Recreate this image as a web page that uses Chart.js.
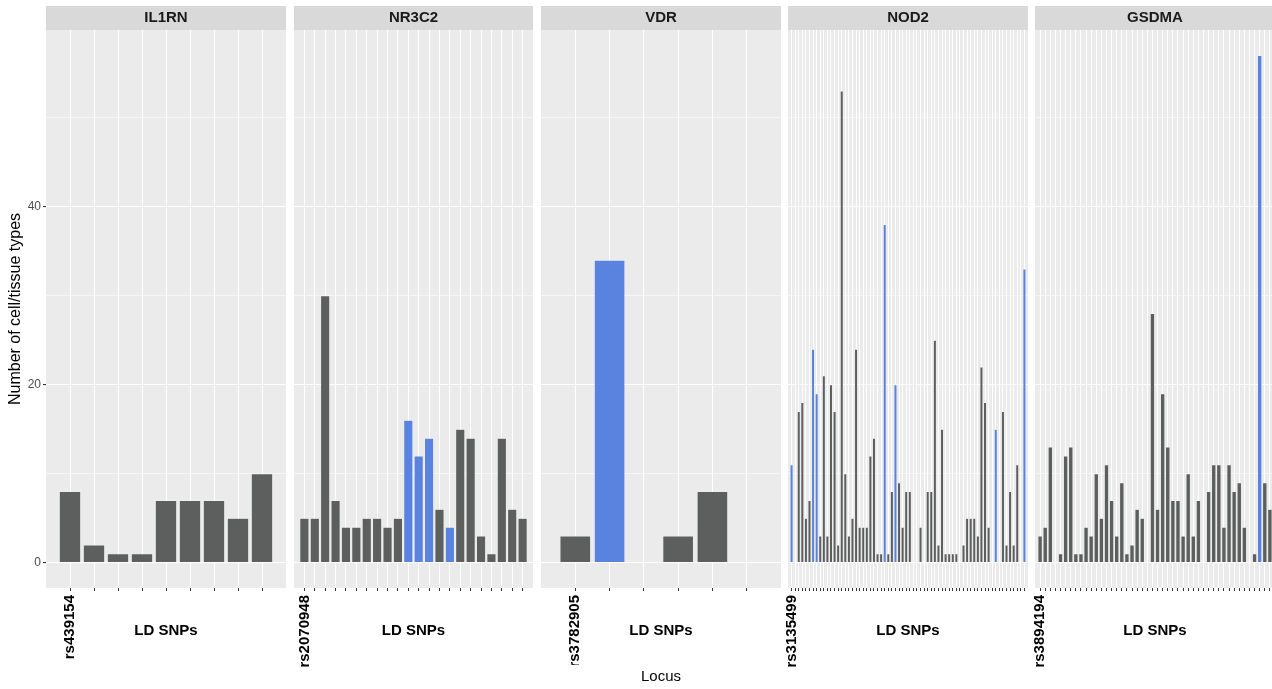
<!DOCTYPE html>
<html>
<head>
<meta charset="utf-8">
<script src="https://cdn.jsdelivr.net/npm/chart.js@4.4.1/dist/chart.umd.min.js"></script>
<style>
  html, body { margin: 0; padding: 0; background: #ffffff; width: 1272px; height: 689px; overflow: hidden; }
  #wrap { position: relative; width: 1272px; height: 689px; overflow: hidden; }
  #wrap canvas { position: absolute; top: 0; }
</style>
</head>
<body>
<div id="wrap">
  <canvas id="panel0"></canvas>
  <canvas id="panel1"></canvas>
  <canvas id="panel2"></canvas>
  <canvas id="panel3"></canvas>
  <canvas id="panel4"></canvas>
</div>
<script>
// Loci shown as facets, with the lead SNP of each locus
const loci = ['IL1RN', 'NR3C2', 'VDR', 'NOD2', 'GSDMA'];
const leadSnps = ['rs439154', 'rs2070948', 'rs3782905', 'rs3135499', 'rs3894194'];

// Number of cell/tissue types per LD SNP, in SNP order within each locus
const il1rnCounts = [8, 2, 1, 1, 7, 7, 7, 5, 10];
const nr3c2Counts = [5, 5, 30, 7, 4, 4, 5, 5, 4, 5, 16, 12, 14, 6, 4, 15, 14, 3, 1, 14, 6, 5];
const vdrCounts = [3, 34, 0, 3, 8, 0];
const nod2Counts = [11, 0, 17, 18, 5, 7, 24, 19, 3, 21,
                    3, 20, 17, 2, 53, 10, 3, 5, 24, 4,
                    4, 4, 12, 14, 1, 1, 38, 1, 8, 20,
                    9, 4, 8, 8, 0, 0, 4, 0, 8, 8,
                    25, 2, 15, 1, 1, 1, 1, 0, 2, 5,
                    5, 5, 3, 22, 18, 4, 0, 15, 0, 17,
                    2, 8, 2, 11, 0, 33];
const gsdmaCounts = [3, 4, 13, 0, 1, 12, 13, 1, 1, 4,
                     3, 10, 5, 11, 7, 3, 9, 1, 2, 6,
                     5, 0, 28, 6, 19, 13, 7, 7, 3, 10,
                     3, 7, 0, 8, 11, 11, 4, 11, 8, 9,
                     4, 0, 1, 57, 9, 6];

// 1-based SNP positions drawn in blue
const il1rnFlagged = [];
const nr3c2Flagged = [11, 12, 13, 15];
const vdrFlagged = [2];
const nod2Flagged = [1, 7, 8, 27, 30, 58, 66];
const gsdmaFlagged = [44];

// y axis: labelled ticks, unlabelled minor grid lines, and the padded range
const yTickLabels = [0, 20, 40];
const yMinorLines = [10, 30, 50];
const yRange = [-2.85, 59.85];

const countsByLocus = [il1rnCounts, nr3c2Counts, vdrCounts, nod2Counts, gsdmaCounts];
const flaggedByLocus = [il1rnFlagged, nr3c2Flagged, vdrFlagged, nod2Flagged, gsdmaFlagged];

// Panel placement: left edge of the plotting area and its width
const panelBoxes = [
  { left: 46, width: 240 },
  { left: 294, width: 239 },
  { left: 541, width: 240 },
  { left: 788, width: 240 },
  { left: 1035, width: 240 }
];
const CANVAS_H = 689;
const Y_AXIS_W = 46;   // room for the shared y axis on the first panel
const GUTTER = 8;      // extra canvas room so rotated labels are not cut
const X_AXIS_H = 101;
const LOCUS_H = 24;

const FONT = "'Liberation Sans', Arial, Helvetica, sans-serif";
const GREY = '#5d5f5e';
const BLUE = '#5a83df';

// Grey panel background and the facet strip behind the locus name
const panelBackground = {
  id: 'panelBackground',
  beforeDraw(chart) {
    const { ctx, chartArea: a } = chart;
    ctx.save();
    ctx.fillStyle = '#ebebeb';
    ctx.fillRect(a.left, a.top, a.right - a.left, a.bottom - a.top);
    ctx.fillStyle = '#d9d9d9';
    ctx.fillRect(a.left, a.top - 24, a.right - a.left, 24);
    ctx.restore();
  }
};

function buildPanel(idx) {
  const counts = countsByLocus[idx];
  const flagged = flaggedByLocus[idx];
  const box = panelBoxes[idx];
  const first = idx === 0;
  const middle = idx === 2;
  const n = counts.length;
  const xHeight = middle ? X_AXIS_H - LOCUS_H : X_AXIS_H;
  const xBottom = middle ? CANVAS_H - LOCUS_H : CANVAS_H;
  const ldTitleCenter = 630.5;
  const leftRoom = first ? box.left : GUTTER;

  const canvas = document.getElementById('panel' + idx);
  const cw = box.width + leftRoom;
  canvas.width = cw;
  canvas.height = CANVAS_H;
  canvas.style.left = (box.left - leftRoom) + 'px';
  canvas.style.width = cw + 'px';
  canvas.style.height = CANVAS_H + 'px';

  const points = counts.map((v, i) => ({ x: i + 1, y: v }));
  const fills = counts.map((v, i) => flagged.includes(i + 1) ? BLUE : GREY);

  return new Chart(canvas, {
    type: 'bar',
    data: {
      datasets: [{
        data: points,
        backgroundColor: fills,
        borderColor: 'rgba(255,255,255,0.3)',
        borderWidth: 0.6,
        barPercentage: 0.9,
        categoryPercentage: 1
      }]
    },
    options: {
      responsive: false,
      animation: false,
      devicePixelRatio: 1,
      layout: { padding: { left: first ? 0 : GUTTER, right: 0, top: 0, bottom: 0 } },
      plugins: {
        legend: { display: false },
        tooltip: { enabled: false },
        title: {
          display: true,
          text: loci[idx],
          position: 'top',
          fullSize: false,
          color: '#1a1a1a',
          font: { family: FONT, size: 15, weight: 'bold', lineHeight: 1.2 },
          padding: { top: 9, bottom: 3 }
        },
        subtitle: {
          display: middle,
          text: 'Locus',
          position: 'bottom',
          fullSize: false,
          color: '#000000',
          font: { family: FONT, size: 15, lineHeight: 1.2 },
          padding: { top: 3, bottom: 3 }
        }
      },
      scales: {
        x: {
          type: 'linear',
          position: 'bottom',
          min: 0,
          max: n + 1,
          bounds: 'data',
          offset: false,
          afterBuildTicks: s => { s.ticks = counts.map((v, i) => ({ value: i + 1 })); },
          grid: { offset: false, color: '#ffffff', lineWidth: 1, drawTicks: true, tickLength: 3, tickColor: '#333333' },
          border: { display: false },
          ticks: {
            autoSkip: false,
            minRotation: 90,
            maxRotation: 90,
            padding: 4,
            color: '#000000',
            font: { family: FONT, size: 15, weight: 'bold' },
            callback: v => (v === 1 ? leadSnps[idx] : '')
          },
          title: {
            display: true,
            text: 'LD SNPs',
            color: '#000000',
            font: { family: FONT, size: 15, weight: 'bold', lineHeight: 1.2 },
            padding: { top: 0, bottom: xBottom - ldTitleCenter - 9 }
          },
          afterFit: s => { s.height = xHeight; s.paddingLeft = 0; s.paddingRight = 0; }
        },
        y: {
          type: 'linear',
          position: 'left',
          min: yRange[0],
          max: yRange[1],
          bounds: 'data',
          afterBuildTicks: s => {
            s.ticks = yTickLabels.concat(yMinorLines).sort((a, b) => a - b).map(v => ({ value: v }));
          },
          grid: {
            color: '#ffffff',
            lineWidth: c => (yTickLabels.includes(c.tick.value) ? 1.1 : 0.55),
            drawTicks: first,
            tickLength: 3,
            tickColor: c => (yTickLabels.includes(c.tick.value) ? '#333333' : 'rgba(0,0,0,0)')
          },
          border: { display: false },
          ticks: {
            display: first,
            padding: 2,
            color: '#4d4d4d',
            font: { family: FONT, size: 12 },
            callback: v => (yTickLabels.includes(v) ? String(v) : '')
          },
          title: {
            display: first,
            text: 'Number of cell/tissue types',
            color: '#000000',
            font: { family: FONT, size: 16, lineHeight: 1.2 },
            padding: { top: 6, bottom: 0 }
          },
          afterFit: s => { s.width = first ? Y_AXIS_W : 0; s.paddingTop = 0; s.paddingBottom = 0; }
        }
      }
    },
    plugins: [panelBackground]
  });
}

loci.forEach((name, i) => buildPanel(i));
</script>
</body>
</html>
